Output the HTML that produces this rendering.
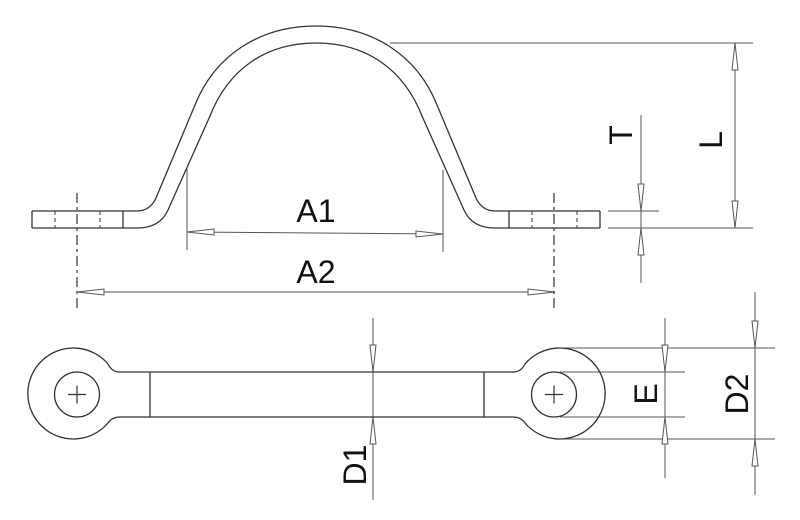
<!DOCTYPE html>
<html><head><style>
html,body{margin:0;padding:0;background:#fff;}
svg{display:block;}
text{font-family:"Liberation Sans",sans-serif;font-size:32px;fill:#111;}
</style></head><body>
<svg width="800" height="520" viewBox="0 0 800 520" xmlns="http://www.w3.org/2000/svg">
<g fill="none" stroke="#333" stroke-width="1.3">
<!-- top view outer profile -->
<path d="M32,211 L137,211 Q150,211 156,198 L195,105 C215,55 260,26 316,26 C372,26 417,55 437,105 L476,198 Q482,211 495,211 L600,211"/>
<path d="M32,228 L137,228 Q160,228 168,210 L210,116 C228,70 265,43 316,43 C367,43 404,70 422,116 L464,210 Q472,228 495,228 L600,228"/>
<line x1="32" y1="211" x2="32" y2="228"/>
<line x1="600" y1="211" x2="600" y2="228"/>
<line x1="123" y1="211" x2="123" y2="228"/>
<line x1="509" y1="211" x2="509" y2="228"/>
<g stroke-dasharray="4,3" stroke-width="1">
<line x1="55" y1="211" x2="55" y2="228"/><line x1="100" y1="211" x2="100" y2="228"/>
<line x1="532" y1="211" x2="532" y2="228"/><line x1="577" y1="211" x2="577" y2="228"/>
</g>
<g stroke-dasharray="10,4,3,4" stroke-width="1.2">
<line x1="77" y1="193" x2="77" y2="310"/><line x1="554" y1="193" x2="554" y2="310"/>
</g>
</g>
<g fill="none" stroke="#555" stroke-width="1">
<!-- L -->
<line x1="390" y1="43" x2="753" y2="43"/>
<line x1="608" y1="228" x2="753" y2="228"/>
<line x1="608" y1="211" x2="659" y2="211"/>
<line x1="735" y1="43" x2="735" y2="228"/>
<line x1="641" y1="115" x2="641" y2="283"/>
<!-- A1 / A2 -->
<line x1="187" y1="167" x2="187" y2="250"/>
<line x1="443" y1="170" x2="443" y2="252"/>
<line x1="187" y1="232" x2="443" y2="234"/>
<line x1="77" y1="292" x2="555" y2="292"/>
<!-- bottom dims -->
<line x1="373" y1="318" x2="373" y2="500"/>
<line x1="665" y1="318" x2="665" y2="478"/>
<line x1="755" y1="292" x2="755" y2="495"/>
<line x1="554" y1="348" x2="775" y2="348"/>
<line x1="554" y1="439" x2="775" y2="439"/>
<line x1="560" y1="372" x2="685" y2="372"/>
<line x1="560" y1="417" x2="685" y2="417"/>
</g>
<g fill="#fff" stroke="#555" stroke-width="1">
<polygon points="735,43 732,70 738,70"/><polygon points="735,228 732,201 738,201"/>
<polygon points="641,211 638,184 644,184"/><polygon points="641,228 638,255 644,255"/>
<polygon points="187,232 214,229 214,235"/><polygon points="443,234 416,231 416,237"/>
<polygon points="77,292 104,289 104,295"/><polygon points="555,292 528,289 528,295"/>
<polygon points="373,372 370,345 376,345"/><polygon points="373,417 370,444 376,444"/>
<polygon points="665,372 662,345 668,345"/><polygon points="665,417 662,444 668,444"/>
<polygon points="755,348 752,321 758,321"/><polygon points="755,439 752,466 758,466"/>
</g>
<!-- bottom view part -->
<g fill="none" stroke="#333" stroke-width="1.3">
<path d="M120,372 Q112,372 108,364 A45.5,45.5 0 1 0 108,423 Q112,417 120,417"/>
<path d="M513,372 Q521,372 525,364 A45.5,45.5 0 1 1 525,423 Q521,417 513,417"/>
<line x1="120" y1="372" x2="513" y2="372"/>
<line x1="120" y1="417" x2="513" y2="417"/>
<line x1="150" y1="372" x2="150" y2="417"/>
<line x1="484" y1="372" x2="484" y2="417"/>
<circle cx="77" cy="394.5" r="22.5"/>
<circle cx="554" cy="394.5" r="22.5"/>
<path d="M68,394.5 H86 M77,385.5 V403.5 M545,394.5 H563 M554,385.5 V403.5" stroke-width="1.2"/>
</g>
<text x="316" y="222" text-anchor="middle">A1</text>
<text x="316" y="283" text-anchor="middle">A2</text>
<text transform="translate(632,135) rotate(-90)" text-anchor="middle">T</text>
<text transform="translate(722,140) rotate(-90)" text-anchor="middle">L</text>
<text transform="translate(366,465) rotate(-90)" text-anchor="middle">D1</text>
<text transform="translate(657,394) rotate(-90)" text-anchor="middle">E</text>
<text transform="translate(748,394) rotate(-90)" text-anchor="middle">D2</text>
</svg>
</body></html>
